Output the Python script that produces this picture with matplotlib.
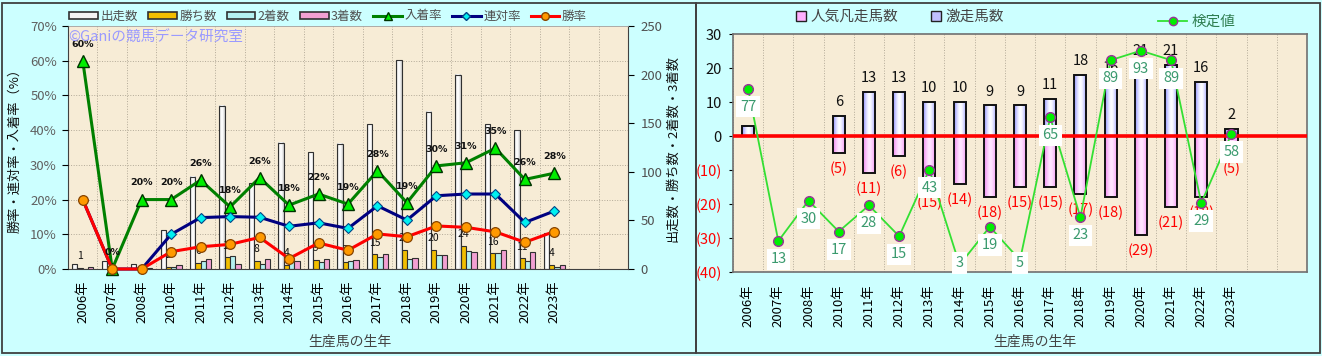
import numpy as np
import matplotlib
matplotlib.use('Agg')
import matplotlib.pyplot as plt
import matplotlib.colors as mcolors
from matplotlib.patches import Rectangle, Patch
from matplotlib.lines import Line2D

plt.rcParams['font.family'] = ['Noto Sans CJK JP', 'DejaVu Sans']

# ---------------- data ----------------
years = ['2006年', '2007年', '2008年', '2010年', '2011年', '2012年', '2013年', '2014年',
         '2015年', '2016年', '2017年', '2018年', '2019年', '2020年', '2021年', '2022年', '2023年']
n_slots = 19

runs = [5, 8, 5, 40, 95, 168, 88, 130, 120, 129, 149, 215, 162, 200, 149, 143, 37]
wins = [1, 0, 0, 2, 6, 12, 8, 4, 9, 7, 15, 20, 20, 24, 16, 11, 4]
seconds = [0, 0, 0, 2, 8, 13, 5, 11, 7, 8, 12, 10, 14, 19, 16, 8, 2]
thirds = [2, 0, 1, 4, 10, 5, 10, 8, 10, 9, 15, 11, 14, 18, 20, 18, 4]

place_rate = [60, 0, 20, 20, 25.6, 17.9, 26.3, 18.4, 21.6, 18.7, 28.3, 19.1, 29.7, 30.6, 34.8, 25.8, 27.6]
quinella_rate = [20, 0, 0, 10, 14.8, 15.1, 14.9, 12.3, 13.3, 11.7, 18.2, 14.1, 21.1, 21.6, 21.6, 13.4, 16.7]
win_rate = [20, 0, 0, 5.0, 6.4, 7.1, 9.1, 3.0, 7.5, 5.4, 10.1, 9.3, 12.4, 12.0, 10.7, 7.7, 10.8]

dark_horse = [3, 0, 0, 6, 13, 13, 10, 10, 9, 9, 11, 18, 16, 21, 21, 16, 2]
fav_flop = [0, 0, 0, 5, 11, 6, 15, 14, 18, 15, 15, 17, 18, 29, 21, 18, 5]
test_value = [77, 13, 30, 17, 28, 15, 43, 3, 19, 5, 65, 23, 89, 93, 89, 29, 58]

# ---------------- figure ----------------
W, H = 1322, 356
fig = plt.figure(figsize=(W / 100, H / 100), dpi=100)
fig.patch.set_facecolor('#ccffff')

def fx(px):
    return px / W

def fy(py):
    return 1 - py / H

# panel borders
fig.add_artist(Rectangle((fx(2), fy(353)), fx(694), 350 / H, transform=fig.transFigure,
                         fill=False, ec='#404040', lw=1.3))
fig.add_artist(Rectangle((fx(696), fy(353)), fx(624), 350 / H, transform=fig.transFigure,
                         fill=False, ec='#404040', lw=1.3))

PLOT_BG = '#f7ecd6'
GRID_C = '#b3aa98'


def shade_bars(ax, bars, edge_col, mid_col, zorder):
    e = np.array(mcolors.to_rgb(edge_col))
    m = np.array(mcolors.to_rgb(mid_col))
    t = np.linspace(-1, 1, 64)
    p = 1 - np.abs(t) ** 1.6
    img = (e[None, :] * (1 - p[:, None]) + m[None, :] * p[:, None])[None, :, :]
    for b in bars:
        h = b.get_height()
        if h == 0:
            continue
        x0, w, y0 = b.get_x(), b.get_width(), b.get_y()
        ax.imshow(img, extent=(x0, x0 + w, min(y0, y0 + h), max(y0, y0 + h)),
                  aspect='auto', interpolation='bilinear', zorder=zorder)
        b.set_facecolor('none')
        b.set_zorder(zorder + 0.01)


x = np.arange(len(years))

# ================= LEFT CHART =================
ax_c = fig.add_axes([fx(68), fy(269), fx(560), 243 / H])
ax_c.set_facecolor(PLOT_BG)
bw = 0.18
b_runs = ax_c.bar(x - 1.5 * bw, runs, bw, color='#f4f4f4', ec='#303030', lw=0.8, zorder=2)
b_wins = ax_c.bar(x - 0.5 * bw, wins, bw, color='#f2be00', ec='#303030', lw=0.8, zorder=2)
b_sec = ax_c.bar(x + 0.5 * bw, seconds, bw, color='#b4f0f0', ec='#303030', lw=0.8, zorder=2)
b_thr = ax_c.bar(x + 1.5 * bw, thirds, bw, color='#f2a0d2', ec='#303030', lw=0.8, zorder=2)
shade_bars(ax_c, b_runs, '#c4c4c4', '#ffffff', 2)

for i, w in enumerate(wins):
    if w > 0:
        ax_c.annotate(str(w), (x[i] - 0.5 * bw, w), xytext=(0, 8.5), textcoords='offset points',
                      ha='center', va='center', fontsize=7.5, color='#111111', zorder=5)

ax_p = ax_c.twinx()

ax_c.set_xlim(-0.5, n_slots - 0.5)
ax_c.set_ylim(0, 250)
ax_c.yaxis.tick_right()
ax_c.set_yticks(np.arange(0, 251, 50))
ax_c.set_yticks(np.linspace(0, 250, 8), minor=True)
ax_c.set_xticks(x)
ax_c.set_xticklabels(years, rotation=90, fontsize=9.5)
ax_c.set_xticks(np.arange(-0.5, n_slots, 1), minor=True)
ax_c.tick_params(axis='x', which='both', length=0, pad=8)
ax_c.tick_params(axis='y', which='major', labelsize=9.5, labelcolor='#505050', length=4, pad=5,
                 left=False, labelleft=False, right=True, labelright=True)
ax_c.tick_params(axis='y', which='minor', length=0, left=False, right=False)
ax_c.grid(True, which='minor', ls=':', lw=0.7, color=GRID_C)
ax_c.set_axisbelow(True)
for s in ['left', 'right', 'bottom']:
    ax_c.spines[s].set_color('#404040')
ax_c.spines['top'].set_color('#a0a0a0')
ax_c.spines['top'].set_linewidth(0.6)

ax_p.yaxis.tick_left()
ax_p.yaxis.set_label_position('left')
ax_p.set_ylim(0, 70)
ax_p.set_yticks(np.arange(0, 71, 10))
ax_p.set_yticklabels([f'{v}%' for v in range(0, 71, 10)])
ax_p.tick_params(axis='y', labelsize=9.5, labelcolor='#606060', length=4, pad=4,
                 left=True, labelleft=True, right=False, labelright=False)
for s in ax_p.spines.values():
    s.set_visible(False)

ax_p.plot(x, place_rate, color='#008000', lw=2.2, marker='^', ms=9,
          mfc='#00ee00', mec='#003300', mew=1.0, zorder=3, clip_on=False)
ax_p.plot(x, quinella_rate, color='#000080', lw=2.2, marker='D', ms=5.5,
          mfc='#00f0f0', mec='#004488', mew=0.8, zorder=3, clip_on=False)
ax_p.plot(x, win_rate, color='#ff0000', lw=2.2, marker='o', ms=7,
          mfc='#ff9900', mec='#884400', mew=0.9, zorder=4, clip_on=False)
for i, v in enumerate(place_rate):
    ax_p.annotate(f'{v:.0f}%', (x[i], v), xytext=(0, 12), textcoords='offset points',
                  ha='center', va='center', fontsize=6.8, fontweight='bold',
                  family='DejaVu Sans', color='#111111', zorder=6)

ax_p.set_ylabel('勝率・連対率・入着率（%）', fontsize=9.5, color='#111111', labelpad=6)
fig.text(fx(673), fy(148), '出走数・勝ち数・2着数・3着数', rotation=90, fontsize=9.5,
         ha='center', va='center', color='#111111')
fig.text(fx(350), fy(342), '生産馬の生年', fontsize=10, ha='center', va='center', color='#444444')
fig.text(fx(68), fy(38), '©Ganiの競馬データ研究室', fontsize=10.5, ha='left', va='center',
         color='#9a9aff')

leg_handles = [
    Patch(fc='#f4f4f4', ec='#303030', lw=1.2, label='出走数'),
    Patch(fc='#f2be00', ec='#303030', lw=1.2, label='勝ち数'),
    Patch(fc='#b4f0f0', ec='#303030', lw=1.2, label='2着数'),
    Patch(fc='#f2a0d2', ec='#303030', lw=1.2, label='3着数'),
    Line2D([], [], color='#008000', lw=2.2, marker='^', ms=6, mfc='#00ee00', mec='#003300', label='入着率'),
    Line2D([], [], color='#000080', lw=2.2, marker='D', ms=4, mfc='#00f0f0', mec='#004488', label='連対率'),
    Line2D([], [], color='#ff0000', lw=2.2, marker='o', ms=5.5, mfc='#ff9900', mec='#884400', label='勝率'),
]
fig.legend(handles=leg_handles, loc='center', bbox_to_anchor=(fx(328), fy(16)), ncol=7,
           frameon=False, fontsize=9, labelcolor='#505050', handlelength=2.3,
           handleheight=0.5, handletextpad=0.2, columnspacing=0.8, numpoints=1)

# ================= RIGHT CHART =================
ax = fig.add_axes([fx(733), fy(272), fx(574), 238 / H])
ax.set_facecolor(PLOT_BG)
rw = 0.40
neg_vals = [-v for v in fav_flop]
b_pos = ax.bar(x, dark_horse, rw, color='#c8c8ff', ec='#111111', lw=1.4, zorder=2)
b_neg = ax.bar(x, neg_vals, rw, color='#ffc0ff', ec='#111111', lw=1.4, zorder=2)
shade_bars(ax, b_pos, '#8a8aff', '#ffffff', 2)
shade_bars(ax, b_neg, '#f080f0', '#ffe6ff', 2)
ax.axhline(0, color='#ff0000', lw=2.6, zorder=3)

for i, v in enumerate(dark_horse):
    if v > 0:
        ax.annotate(str(v), (x[i], v), xytext=(0, 10), textcoords='offset points',
                    ha='center', va='center', fontsize=10.5, color='#111111', zorder=4)
for i, v in enumerate(fav_flop):
    if v > 0:
        ax.annotate(f'({v})', (x[i], -v), xytext=(0, -11.5), textcoords='offset points',
                    ha='center', va='center', fontsize=10.5, color='#ff0000', zorder=4)

ax.set_xlim(-0.5, n_slots - 0.5)
ax.set_ylim(-40, 30)
yt = list(range(-40, 31, 10))
ax.set_yticks(yt)
ax.set_yticklabels([str(v) if v >= 0 else f'({-v})' for v in yt])
for lab, v in zip(ax.get_yticklabels(), yt):
    lab.set_color('#ff0000' if v < 0 else '#111111')
ax.tick_params(axis='y', labelsize=10.5, length=3, pad=5)
ax.set_xticks(x)
ax.set_xticklabels(years, rotation=90, fontsize=9.5)
ax.set_xticks(np.arange(-0.5, n_slots, 1), minor=True)
ax.set_yticks(yt, minor=True)
ax.tick_params(axis='x', which='both', length=0, pad=9)
ax.tick_params(axis='y', which='minor', length=0)
ax.grid(True, which='minor', ls=':', lw=0.7, color=GRID_C)
ax.set_axisbelow(True)
for s in ax.spines.values():
    s.set_color('#707070')
    s.set_linewidth(1.2)

ax2 = ax.twinx()
ax2.set_ylim(0, 100)
ax2.set_yticks([])
for s in ax2.spines.values():
    s.set_visible(False)
ax2.plot(x, test_value, color='#33e033', lw=1.3, marker='o', ms=7, mfc='#00ee00',
         mec='#993399', mew=1.0, zorder=2, clip_on=False)
for i, v in enumerate(test_value):
    ly = max(v - 7.6, 3.8)
    ax2.text(x[i], ly, str(v), ha='center', va='center', fontsize=10.5, color='#3a9a6e',
             zorder=3, bbox=dict(boxstyle='square,pad=0.25', fc='white', ec='none'))

fig.text(fx(1035), fy(342), '生産馬の生年', fontsize=10, ha='center', va='center', color='#444444')

leg_r = [
    Patch(fc='#ffb0ff', ec='#222222', lw=1.0, label='人気凡走馬数'),
    Patch(fc='#c0c0ff', ec='#222222', lw=1.0, label='激走馬数'),
]
fig.legend(handles=leg_r, loc='center', bbox_to_anchor=(fx(900), fy(17)), ncol=2,
           frameon=False, fontsize=10.5, labelcolor='#444444', handlelength=0.7,
           handleheight=0.7, handletextpad=0.3, columnspacing=2.2)
fig.legend(handles=[Line2D([], [], color='#33e033', lw=1.3, marker='o', ms=6, mfc='#00ee00',
                           mec='#993399', label='検定値')],
           loc='center', bbox_to_anchor=(fx(1197), fy(22)), frameon=False, fontsize=10.5,
           labelcolor='#2e7d4f', handlelength=2.0, handletextpad=0.3, numpoints=1)

fig.savefig('out.png', dpi=100, facecolor=fig.get_facecolor())
